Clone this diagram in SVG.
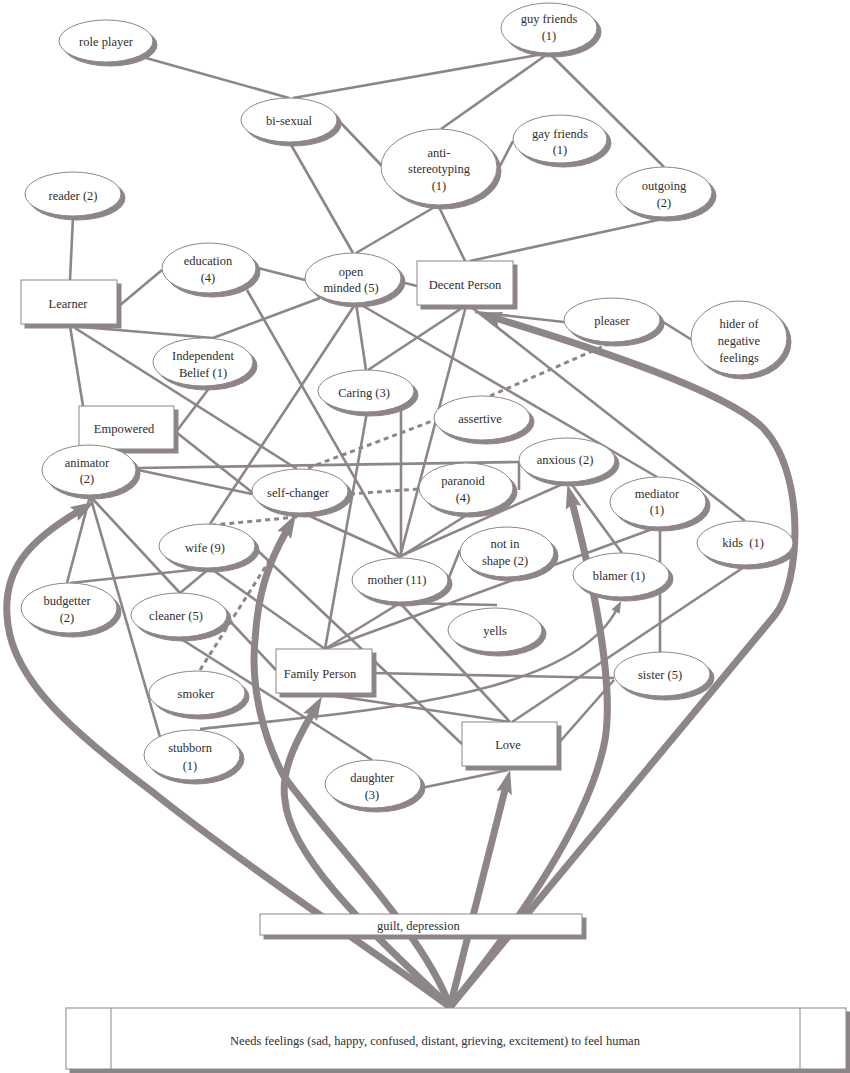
<svg xmlns="http://www.w3.org/2000/svg" width="850" height="1073" viewBox="0 0 850 1073">
<defs>
<style>
.ln{stroke:#8e8587;stroke-width:2.6;fill:none}
.dl{stroke:#8e8587;stroke-width:3;fill:none;stroke-dasharray:5 4}
.tk{stroke:#8e8587;stroke-width:7;fill:none;marker-end:url(#ah)}
.ta{stroke:#8e8587;stroke-width:2.6;fill:none;marker-end:url(#as)}
.nd{fill:#fff;stroke:#8e8587;stroke-width:1;filter:url(#sh)}
.in{stroke:#8e8587;stroke-width:1}
text{font-family:"Liberation Serif","Times New Roman",serif;font-size:12.5px;fill:#2e2e2e;text-anchor:middle}
</style>
<filter id="sh" x="-10%" y="-10%" width="130%" height="140%">
<feOffset in="SourceAlpha" dx="4" dy="4" result="o"/>
<feFlood flood-color="#8e8587"/>
<feComposite in2="o" operator="in"/>
<feMerge><feMergeNode/><feMergeNode in="SourceGraphic"/></feMerge>
</filter>
<marker id="ah" markerUnits="userSpaceOnUse" markerWidth="24" markerHeight="16" viewBox="0 0 24 16" refX="6" refY="8" orient="auto"><path d="M0,0 L24,8 L0,16 L4,8 z" fill="#8e8587"/></marker>
<marker id="as" markerUnits="userSpaceOnUse" markerWidth="12" markerHeight="10" viewBox="0 0 12 10" refX="3" refY="5" orient="auto"><path d="M0,0.5 L12,5 L0,9.5 z" fill="#8e8587"/></marker>
</defs>
<rect width="850" height="1073" fill="#fff"/>
<g id="connectors">
<line class="ln" x1="146" y1="58" x2="289" y2="98"/>
<line class="ln" x1="293" y1="98" x2="549" y2="53"/>
<line class="ln" x1="549" y1="53" x2="441" y2="129"/>
<line class="ln" x1="549" y1="53" x2="664" y2="167"/>
<line class="ln" x1="339" y1="121" x2="382" y2="166"/>
<line class="ln" x1="499" y1="168" x2="513" y2="141"/>
<line class="ln" x1="290" y1="143" x2="353" y2="253"/>
<line class="ln" x1="438" y1="205" x2="356" y2="253"/>
<line class="ln" x1="438" y1="205" x2="465" y2="261"/>
<line class="ln" x1="667" y1="218" x2="470" y2="261"/>
<line class="ln" x1="73" y1="217" x2="70" y2="280"/>
<line class="ln" x1="119" y1="306" x2="162" y2="270"/>
<line class="ln" x1="258" y1="268" x2="305" y2="280"/>
<line class="ln" x1="401" y1="282" x2="417" y2="286"/>
<line class="ln" x1="70" y1="326" x2="213" y2="338"/>
<line class="ln" x1="320" y1="298" x2="213" y2="338"/>
<line class="ln" x1="70" y1="326" x2="83" y2="406"/>
<line class="ln" x1="75" y1="328" x2="297" y2="469"/>
<line class="ln" x1="210" y1="387" x2="176" y2="432"/>
<line class="ln" x1="176" y1="432" x2="253" y2="493"/>
<line class="ln" x1="138" y1="468" x2="519" y2="462"/>
<line class="ln" x1="519" y1="462" x2="519" y2="490"/>
<line class="ln" x1="138" y1="470" x2="252" y2="494"/>
<line class="ln" x1="210" y1="524" x2="356" y2="303"/>
<line class="ln" x1="247" y1="290" x2="400" y2="557"/>
<line class="ln" x1="356" y1="303" x2="366" y2="370"/>
<line class="ln" x1="358" y1="303" x2="657" y2="477"/>
<line class="ln" x1="465" y1="306" x2="368" y2="370"/>
<line class="ln" x1="466" y1="306" x2="400" y2="557"/>
<line class="ln" x1="470" y1="306" x2="745" y2="521"/>
<line class="ln" x1="475" y1="312" x2="564" y2="322"/>
<line class="ln" x1="660" y1="320" x2="692" y2="340"/>
<line class="ln" x1="367" y1="412" x2="325" y2="649"/>
<line class="ln" x1="401" y1="409" x2="401" y2="557"/>
<line class="ln" x1="303" y1="513" x2="400" y2="557"/>
<line class="ln" x1="470" y1="513" x2="400" y2="557"/>
<line class="ln" x1="565" y1="483" x2="403" y2="555"/>
<line class="ln" x1="570" y1="482" x2="622" y2="553"/>
<line class="ln" x1="448" y1="580" x2="460" y2="550"/>
<line class="ln" x1="400" y1="603" x2="497" y2="605"/>
<line class="ln" x1="400" y1="603" x2="510" y2="722"/>
<line class="ln" x1="400" y1="603" x2="325" y2="649"/>
<line class="ln" x1="658" y1="527" x2="325" y2="649"/>
<line class="ln" x1="660" y1="527" x2="660" y2="652"/>
<line class="ln" x1="747" y1="565" x2="512" y2="722"/>
<line class="ln" x1="90" y1="496" x2="67" y2="583"/>
<line class="ln" x1="90" y1="496" x2="180" y2="593"/>
<line class="ln" x1="90" y1="496" x2="160" y2="737"/>
<line class="ln" x1="70" y1="583" x2="210" y2="568"/>
<line class="ln" x1="210" y1="568" x2="180" y2="593"/>
<line class="ln" x1="210" y1="568" x2="325" y2="649"/>
<line class="ln" x1="255" y1="548" x2="462" y2="744"/>
<line class="ln" x1="227" y1="618" x2="276" y2="670"/>
<line class="ln" x1="178" y1="637" x2="372" y2="760"/>
<line class="ln" x1="372" y1="673" x2="614" y2="678"/>
<line class="ln" x1="323" y1="694" x2="510" y2="722"/>
<line class="ln" x1="557" y1="745" x2="614" y2="680"/>
<line class="ln" x1="421" y1="788" x2="508" y2="770"/>
<line class="dl" x1="308" y1="468" x2="435" y2="420"/>
<line class="dl" x1="490" y1="396" x2="613" y2="342"/>
<line class="dl" x1="350" y1="494" x2="418" y2="489"/>
<line class="dl" x1="297" y1="517" x2="213" y2="525"/>
<line class="dl" x1="200" y1="670" x2="290" y2="528"/>
<path class="ta" d="M200,729 C350,712 570,700 617,609"/>
<path class="tk" d="M450,1007 C380,955 250,870 150,790 C70,730 15,680 8,625 C0,570 30,540 79,511"/>
<path class="tk" d="M450,1007 C425,935 330,840 283,775 C265,740 250,690 255,640 C258,590 270,560 287,530"/>
<path class="tk" d="M450,1007 C380,940 290,860 285,800 C280,770 298,738 313,712"/>
<path class="tk" d="M450,1007 L505.6,787.4"/>
<path class="tk" d="M450,1007 C520,920 590,820 605,740 C615,680 590,570 572,502"/>
<path class="tk" d="M450,1007 L775,615 C800,585 808,470 760,425 C720,390 600,350 495,318"/>
</g>
<g id="role-player"><ellipse class="nd" cx="106" cy="41" rx="47" ry="21"/><text x="106" y="46">role player</text></g>
<g id="guy-friends"><ellipse class="nd" cx="549" cy="28" rx="48" ry="25"/><text x="549" y="23">guy friends</text><text x="549" y="40">(1)</text></g>
<g id="bi-sexual"><ellipse class="nd" cx="289" cy="120" rx="48" ry="22"/><text x="289" y="125">bi-sexual</text></g>
<g id="anti-stereotyping"><ellipse class="nd" cx="439" cy="167" rx="58" ry="38"/><text x="439" y="157">anti-</text><text x="439" y="173">stereotyping</text><text x="439" y="190">(1)</text></g>
<g id="gay-friends"><ellipse class="nd" cx="560" cy="139" rx="47" ry="24"/><text x="560" y="138">gay friends</text><text x="560" y="154">(1)</text></g>
<g id="outgoing"><ellipse class="nd" cx="664" cy="192" rx="48" ry="25"/><text x="664" y="190">outgoing</text><text x="664" y="207">(2)</text></g>
<g id="reader"><ellipse class="nd" cx="73" cy="194" rx="48" ry="22"/><text x="73" y="200">reader (2)</text></g>
<g id="education"><ellipse class="nd" cx="209" cy="268" rx="47" ry="25"/><text x="208" y="265">education</text><text x="208" y="282">(4)</text></g>
<g id="open-minded"><ellipse class="nd" cx="353" cy="278" rx="48" ry="25"/><text x="351" y="276">open</text><text x="351" y="292">minded (5)</text></g>
<g id="decent-person"><rect class="nd" x="417" y="261" width="96" height="44"/><text x="465" y="289">Decent Person</text></g>
<g id="learner"><rect class="nd" x="21" y="280" width="96" height="44"/><text x="68" y="308">Learner</text></g>
<g id="pleaser"><ellipse class="nd" cx="612" cy="320" rx="48" ry="22"/><text x="612" y="325">pleaser</text></g>
<g id="hider"><ellipse class="nd" cx="739" cy="338" rx="48" ry="37"/><text x="739" y="328">hider of</text><text x="739" y="345">negative</text><text x="739" y="362">feelings</text></g>
<g id="independent-belief"><ellipse class="nd" cx="203" cy="362" rx="50" ry="24"/><text x="203" y="360">Independent</text><text x="203" y="377">Belief (1)</text></g>
<g id="caring"><ellipse class="nd" cx="366" cy="391" rx="48" ry="21"/><text x="364" y="397">Caring (3)</text></g>
<g id="assertive"><ellipse class="nd" cx="482" cy="418" rx="48" ry="22"/><text x="480" y="423">assertive</text></g>
<g id="empowered"><rect class="nd" x="79" y="406" width="95" height="43"/><text x="124" y="433">Empowered</text></g>
<g id="animator"><ellipse class="nd" cx="89" cy="470" rx="47" ry="25"/><text x="87" y="467">animator</text><text x="87" y="483">(2)</text></g>
<g id="self-changer"><ellipse class="nd" cx="300" cy="491" rx="48" ry="22"/><text x="298" y="497">self-changer</text></g>
<g id="anxious"><ellipse class="nd" cx="567" cy="460" rx="48" ry="22"/><text x="565" y="464">anxious (2)</text></g>
<g id="paranoid"><ellipse class="nd" cx="466" cy="488" rx="47" ry="25"/><text x="463" y="485">paranoid</text><text x="463" y="502">(4)</text></g>
<g id="mediator"><ellipse class="nd" cx="658" cy="502" rx="48" ry="25"/><text x="657" y="498">mediator</text><text x="657" y="514">(1)</text></g>
<g id="kids"><ellipse class="nd" cx="745" cy="543" rx="48" ry="22"/><text x="743" y="547" xml:space="preserve">kids  (1)</text></g>
<g id="wife"><ellipse class="nd" cx="207" cy="546" rx="48" ry="22"/><text x="205" y="552">wife (9)</text></g>
<g id="mother"><ellipse class="nd" cx="400" cy="580" rx="48" ry="22"/><text x="397" y="584">mother (11)</text></g>
<g id="not-in-shape"><ellipse class="nd" cx="507" cy="552" rx="47" ry="25"/><text x="505" y="548">not in</text><text x="505" y="565">shape (2)</text></g>
<g id="blamer"><ellipse class="nd" cx="621" cy="575" rx="48" ry="22"/><text x="619" y="580">blamer (1)</text></g>
<g id="budgetter"><ellipse class="nd" cx="69" cy="608" rx="48" ry="25"/><text x="67" y="605">budgetter</text><text x="67" y="622">(2)</text></g>
<g id="cleaner"><ellipse class="nd" cx="179" cy="615" rx="48" ry="22"/><text x="176" y="620">cleaner (5)</text></g>
<g id="yells"><ellipse class="nd" cx="495" cy="630" rx="47" ry="22"/><text x="495" y="635">yells</text></g>
<g id="family-person"><rect class="nd" x="276" y="649" width="96" height="44"/><text x="320" y="678">Family Person</text></g>
<g id="smoker"><ellipse class="nd" cx="197" cy="693" rx="48" ry="22"/><text x="196" y="698">smoker</text></g>
<g id="sister"><ellipse class="nd" cx="662" cy="674" rx="48" ry="22"/><text x="660" y="679">sister (5)</text></g>
<g id="stubborn"><ellipse class="nd" cx="192" cy="755" rx="48" ry="25"/><text x="190" y="752">stubborn</text><text x="190" y="770">(1)</text></g>
<g id="love"><rect class="nd" x="462" y="722" width="95" height="44"/><text x="508" y="749">Love</text></g>
<g id="daughter"><ellipse class="nd" cx="373" cy="784" rx="48" ry="24"/><text x="372" y="782">daughter</text><text x="372" y="799">(3)</text></g>
<g id="guilt-depression"><rect class="nd" x="260" y="914" width="322" height="21"/><text x="377" y="930" style="text-anchor:start">guilt, depression</text></g>
<g id="needs-feelings"><rect class="nd" x="66" y="1008" width="780" height="61"/><line class="in" x1="111" y1="1008" x2="111" y2="1069"/><line class="in" x1="800" y1="1008" x2="800" y2="1069"/><text x="435" y="1045">Needs feelings (sad, happy, confused, distant, grieving, excitement) to feel human</text></g>
</svg>
